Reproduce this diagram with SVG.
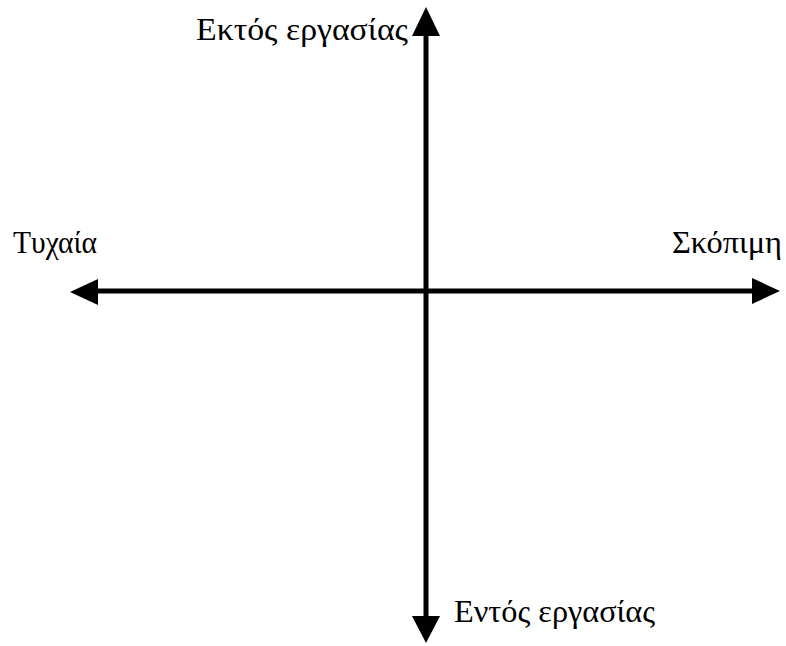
<svg xmlns="http://www.w3.org/2000/svg" width="786" height="646" viewBox="0 0 786 646">
<style>
.lbl{font-family:"Liberation Serif","Times New Roman","DejaVu Serif",serif;font-size:31px;fill:#000}
.ax{stroke:#000;stroke-width:5;fill:none}
.head{fill:#000}
</style>
<rect width="786" height="646" fill="#fff"/>
<g id="connectors">
<line class="ax" x1="426" y1="30" x2="426" y2="620"/>
<line class="ax" x1="92" y1="291" x2="758" y2="291"/>
<polygon class="head" points="426,7 440,36 412,36"/>
<polygon class="head" points="426,643 412,616 440,616"/>
<polygon class="head" points="70,292 98,279 98,305"/>
<polygon class="head" points="780,291 752,278 752,304"/>
</g>
<g id="top"><text class="lbl" x="196" y="40" textLength="212" lengthAdjust="spacingAndGlyphs">Εκτός εργασίας</text></g>
<g id="bottom"><text class="lbl" x="454" y="622" textLength="201" lengthAdjust="spacingAndGlyphs">Εντός εργασίας</text></g>
<g id="left"><text class="lbl" x="13" y="253" textLength="84" lengthAdjust="spacingAndGlyphs">Τυχαία</text></g>
<g id="right"><text class="lbl" x="672" y="253" textLength="110" lengthAdjust="spacingAndGlyphs">Σκόπιμη</text></g>
</svg>
